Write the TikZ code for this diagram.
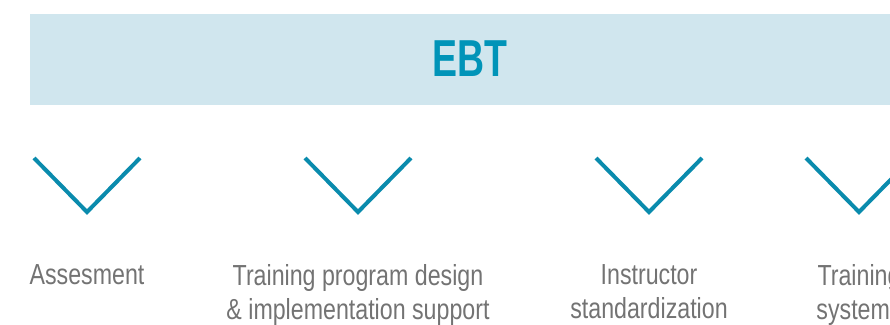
\documentclass[tikz,border=0pt]{standalone}
\usepackage{fontspec}
\setmainfont{Liberation Sans}[FakeStretch=0.8]
\newfontfamily\ebtfont{Liberation Sans}[FakeStretch=0.72]
\newlength{\du}
\setlength{\du}{1pt}
\begin{document}
\begin{tikzpicture}[
  steplabel/.style={inner sep=0pt, anchor=north, align=center, text=dialinetext,
    font=\fontsize{29}{34}\selectfont},
  chevron/.style={line width=4\du, draw=dialinechevron}]
\pgftransformxscale{1.000000}
\pgftransformyscale{-1.000000}
\definecolor{dialinebanner}{rgb}{0.816000, 0.902000, 0.933000}
\definecolor{dialinetitle}{rgb}{0.000000, 0.580000, 0.720000}
\definecolor{dialinechevron}{rgb}{0.040000, 0.545000, 0.680000}
\definecolor{dialinetext}{rgb}{0.450000, 0.450000, 0.450000}
\useasboundingbox (0\du,0\du) rectangle (890\du,324\du);
% banner
\fill[dialinebanner] (30.000000\du,14.000000\du)--(30.000000\du,105.000000\du)--(890.000000\du,105.000000\du)--(890.000000\du,14.000000\du)--cycle;
\node[inner sep=0pt, text=dialinetitle, font=\ebtfont\bfseries\fontsize{52}{60}\selectfont] (ebt) at (470.000000\du,59.000000\du){EBT};
% chevrons
\draw[chevron] (34.000000\du,158.000000\du)--(87.000000\du,212.000000\du)--(140.000000\du,158.000000\du);
\draw[chevron] (305.000000\du,158.000000\du)--(358.000000\du,212.000000\du)--(411.000000\du,158.000000\du);
\draw[chevron] (596.000000\du,158.000000\du)--(649.000000\du,212.000000\du)--(702.000000\du,158.000000\du);
\draw[chevron] (806.000000\du,158.000000\du)--(859.000000\du,212.000000\du)--(912.000000\du,158.000000\du);
% labels
\node[steplabel] (assesment) at (87.000000\du,264.000000\du){Assesment};
\node[steplabel] (design) at (358.000000\du,264.000000\du){Training program design\\\& implementation support};
\node[steplabel] (instructor) at (649.000000\du,264.000000\du){Instructor\\standardization};
\node[steplabel] (system) at (859.000000\du,264.000000\du){Training\\systems};
\end{tikzpicture}
\end{document}
